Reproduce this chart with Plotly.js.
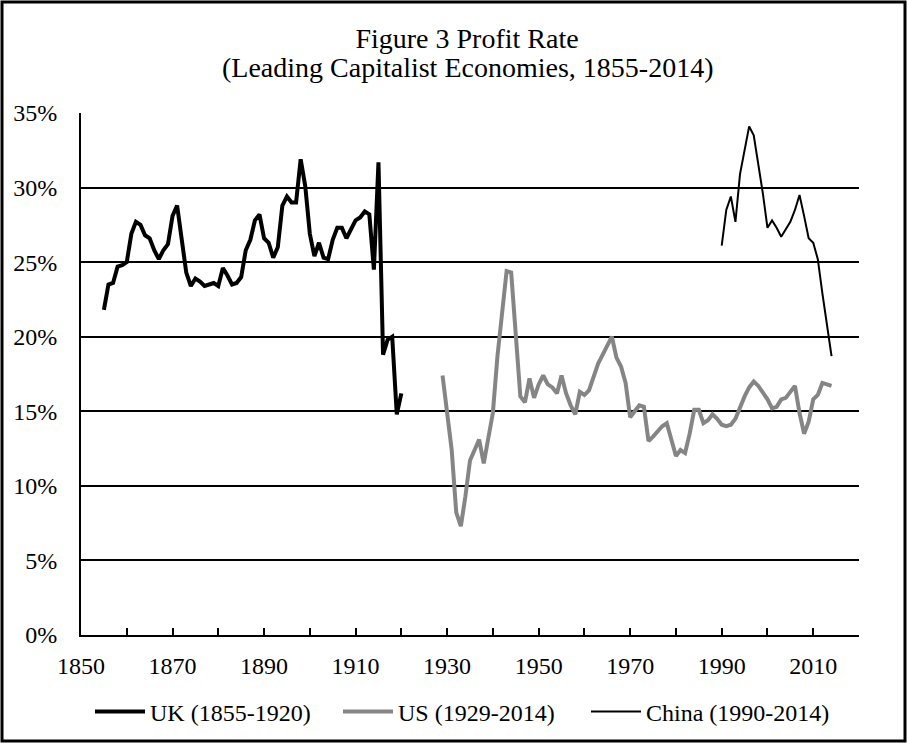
<!DOCTYPE html>
<html>
<head>
<meta charset="utf-8">
<script src="https://cdn.plot.ly/plotly-3.0.1.min.js"></script>
<style>
  html, body { margin: 0; padding: 0; background: #ffffff; }
  #chart { width: 907px; height: 743px; }
</style>
</head>
<body>
<div id="chart"></div>
<script>
// ---- data (percent) ----
var ukStart = 1855;
var ukValues = [
  21.8, 23.5, 23.6, 24.7, 24.8, 25.0, 26.9, 27.7, 27.5, 26.8,
  26.6, 25.8, 25.2, 25.8, 26.2, 28.1, 28.8, 26.4, 24.3, 23.4,
  23.9, 23.7, 23.4, 23.5, 23.6, 23.4, 24.6, 24.1, 23.5, 23.6,
  24.0, 25.8, 26.5, 27.8, 28.2, 26.6, 26.3, 25.3, 26.0, 28.8,
  29.4, 29.0, 29.0, 31.9, 30.1, 26.9, 25.4, 26.3, 25.3, 25.2,
  26.5, 27.3, 27.3, 26.6, 27.2, 27.8, 28.0, 28.4, 28.2, 24.5,
  31.7, 18.8, 19.8, 20.0, 14.8, 16.2
];
var usStart = 1929;
var usValues = [
  17.4, 15.1, 12.4, 8.2, 7.3, 9.3, 11.7, 12.4, 13.1, 11.5,
  13.1, 14.9, 18.7, 21.8, 24.4, 24.3, 20.3, 16.0, 15.6, 17.2,
  15.9, 16.8, 17.4, 16.8, 16.6, 16.2, 17.4, 16.2, 15.4, 14.8,
  16.3, 16.1, 16.4, 17.4, 18.2, 18.8, 19.4, 20.0, 18.6, 18.0,
  16.9, 14.6, 15.0, 15.4, 15.3, 13.0, 13.3, 13.7, 14.0, 14.2,
  13.1, 12.0, 12.4, 12.2, 13.5, 15.1, 15.1, 14.2, 14.4, 14.8,
  14.5, 14.1, 14.0, 14.1, 14.5, 15.3, 16.0, 16.6, 17.0, 16.7,
  16.3, 15.8, 15.2, 15.3, 15.8, 15.9, 16.3, 16.7, 14.9, 13.5,
  14.3, 15.8, 16.1, 16.9, 16.8, 16.7
];
var chinaStart = 1990;
var chinaValues = [
  26.1, 28.5, 29.4, 27.7, 30.9, 32.5, 34.1, 33.5, 31.6, 29.6,
  27.3, 27.8, 27.3, 26.7, 27.2, 27.7, 28.5, 29.5, 28.1, 26.6,
  26.3, 25.2, 22.9, 20.7, 18.7
];
var seriesNames = ["UK (1855-1920)", "US (1929-2014)", "China (1990-2014)"];
var xTickVals = [1850, 1860, 1870, 1880, 1890, 1900, 1910, 1920, 1930, 1940, 1950, 1960, 1970, 1980, 1990, 2000, 2010, 2020];
var xTickText = ["1850", "", "1870", "", "1890", "", "1910", "", "1930", "", "1950", "", "1970", "", "1990", "", "2010", ""];
var yTickVals = [0, 5, 10, 15, 20, 25, 30, 35];
var yTickText = ["0%", "5%", "10%", "15%", "20%", "25%", "30%", "35%"];
var titleLine1 = "Figure 3 Profit Rate";
var titleLine2 = "(Leading Capitalist Economies, 1855-2014)";

function yearsFrom(start, n) {
  var out = [];
  for (var i = 0; i < n; i++) out.push(start + i);
  return out;
}

var FONT = "Liberation Serif, Times New Roman, serif";
var L = 81, R = 48, T = 113, B = 108, W = 907, H = 743;
var PW = W - L - R, PH = H - T - B;
var TITLE_X = 467;

var traces = [
  { x: yearsFrom(ukStart, ukValues.length), y: ukValues, name: seriesNames[0],
    type: "scatter", mode: "lines", line: { color: "#000000", width: 4 } },
  { x: yearsFrom(usStart, usValues.length), y: usValues, name: seriesNames[1],
    type: "scatter", mode: "lines", line: { color: "#858585", width: 4 } },
  { x: yearsFrom(chinaStart, chinaValues.length), y: chinaValues, name: seriesNames[2],
    type: "scatter", mode: "lines", line: { color: "#000000", width: 2 } }
];

var layout = {
  width: W, height: H,
  margin: { l: L, r: R, t: T, b: B, pad: 0, autoexpand: false },
  paper_bgcolor: "#ffffff", plot_bgcolor: "#ffffff",
  font: { family: FONT, size: 24, color: "#000000" },
  title: { text: titleLine1, font: { family: FONT, size: 28, color: "#000000" },
           x: TITLE_X / W, xanchor: "center", xref: "container", y: 1 - 38 / H, yanchor: "middle", yref: "container" },
  annotations: [
    { text: titleLine2, xref: "paper", yref: "paper", x: (TITLE_X - L) / PW, xanchor: "center",
      y: (H - B - 68) / PH, yanchor: "middle", showarrow: false,
      font: { family: FONT, size: 28, color: "#000000" } }
  ],
  showlegend: true,
  legend: { orientation: "h", x: (462 - L) / PW, xanchor: "center", y: -(712 - (H - B)) / PH, yanchor: "middle",
            entrywidth: 183, entrywidthmode: "pixels", itemwidth: 50,
            font: { family: FONT, size: 24, color: "#000000" }, bgcolor: "rgba(0,0,0,0)" },
  xaxis: {
    range: [1850, 2020], tickmode: "array", tickvals: xTickVals, ticktext: xTickText,
    ticks: "inside", ticklen: 7, tickwidth: 2, tickcolor: "#000000",
    showline: true, linecolor: "#000000", linewidth: 2, showgrid: false, zeroline: false,
    ticklabelstandoff: 8,
    tickfont: { family: FONT, size: 24, color: "#000000" }, fixedrange: true
  },
  yaxis: {
    range: [0, 35], tickmode: "array", tickvals: yTickVals, ticktext: yTickText,
    showline: true, linecolor: "#000000", linewidth: 2,
    showgrid: true, gridcolor: "#000000", gridwidth: 2, zeroline: false,
    ticks: "", ticklabelstandoff: 17,
    tickfont: { family: FONT, size: 24, color: "#000000" }, fixedrange: true
  },
  shapes: [
    { type: "rect", xref: "paper", yref: "paper",
      x0: (2 - L) / PW, x1: (905 - L) / PW,
      y0: ((H - B) - 741) / PH, y1: ((H - B) - 2) / PH,
      line: { color: "#000000", width: 3 }, fillcolor: "rgba(0,0,0,0)", layer: "above" }
  ]
};

Plotly.newPlot("chart", traces, layout, { displayModeBar: false, staticPlot: true });
</script>
</body>
</html>
